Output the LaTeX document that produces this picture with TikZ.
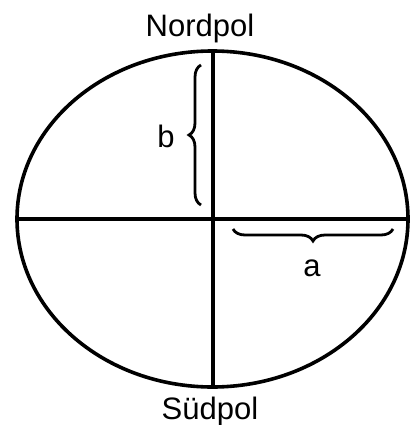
\documentclass[tikz,border=0pt]{standalone}
\usepackage{fontspec}
\setmainfont{Liberation Sans}
\usetikzlibrary{decorations.pathreplacing}
\begin{document}
\begin{tikzpicture}[x=1pt,y=-1pt,
  axis/.style={line width=3.6pt},
  bracestyle/.style={line width=2.8pt,decorate,decoration={brace,amplitude=12pt}},
  lbl/.style={font=\fontsize{31}{31}\selectfont,inner sep=0pt}]
\useasboundingbox (0,0) rectangle (412,425);
\coordinate (C) at (212.5,219);
\coordinate (N) at (213,50);
\coordinate (S) at (213,386);
\coordinate (W) at (17,219);
\coordinate (E) at (408,219);
\draw[axis] (C) ellipse [x radius=195.5, y radius=168];
\draw[axis] (N) -- (S);
\draw[axis] (W) -- (E);
\node[lbl,anchor=base] (nord) at (200,37) {Nordpol};
\node[lbl,anchor=base] (sued) at (210,419) {Südpol};
\coordinate (b1) at (201,205);
\coordinate (b2) at (201,65);
\draw[bracestyle] (b1) -- (b2);
\coordinate (a1) at (393,229);
\coordinate (a2) at (233,229);
\draw[bracestyle] (a1) -- (a2);
\node[lbl] (b) at (166,136) {b};
\node[lbl] (a) at (312,268) {a};
\end{tikzpicture}
\end{document}
